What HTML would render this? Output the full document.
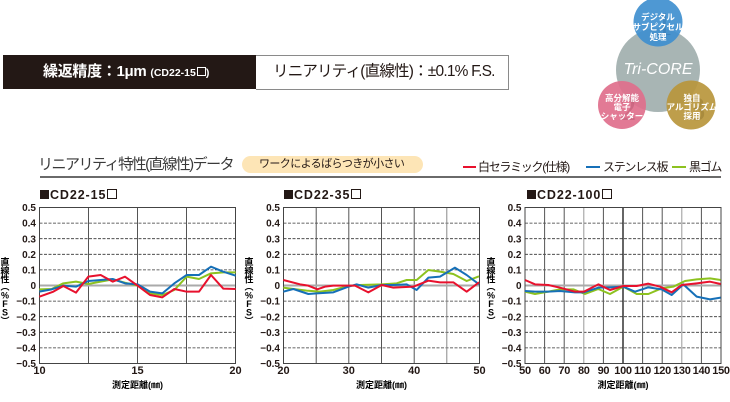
<!DOCTYPE html>
<html><head><meta charset="utf-8">
<style>
html,body{margin:0;padding:0;background:#fff;}
body{width:730px;height:402px;position:relative;overflow:hidden;font-family:"Liberation Sans","Noto Sans CJK JP",sans-serif;color:#231815;}
.abs{position:absolute;white-space:nowrap;}
.sq{display:inline-block;width:9px;height:9px;background:#231815;vertical-align:0px;margin-right:1px;}
.sqo{display:inline-block;width:8px;height:8px;border:1px solid #231815;vertical-align:0px;margin-left:1px;box-sizing:content-box;}
.sqw{display:inline-block;width:7px;height:7px;border:1px solid #fff;vertical-align:0px;margin-left:1px;}
.ct{position:absolute;white-space:nowrap;font-size:12.5px;font-weight:bold;letter-spacing:0.9px;line-height:14px;}
</style></head><body>

<!-- header boxes -->
<div class="abs" style="left:3px;top:55px;width:253px;height:34px;background:#231815;"></div>
<div class="abs" style="left:256px;top:55px;width:252px;height:33px;border:1px solid #8a8a8a;border-left:none;background:#fff;"></div>
<div class="abs" style="left:43px;top:55px;height:34px;line-height:34px;color:#fff;font-weight:bold;font-size:15px;letter-spacing:-0.3px;">繰返精度：1μm <span style="font-size:10.5px;letter-spacing:0;font-weight:bold;">(CD22-15<span class="sqw"></span>)</span></div>
<div class="abs" style="left:273px;top:55px;height:34px;line-height:34px;font-size:15.5px;letter-spacing:-0.8px;color:#231815;">リニアリティ(直線性)：±0.1% F.S.</div>

<!-- Tri-CORE logo -->
<svg class="abs" style="left:590px;top:0;" width="140" height="135" viewBox="590 0 140 135">
  <circle cx="658" cy="70" r="42" fill="#a8b5b4"/>
  <circle cx="658" cy="22" r="24.5" fill="#3f8fcf" opacity="0.92"/>
  <circle cx="622" cy="105" r="24" fill="#e06f8c" opacity="0.92"/>
  <circle cx="691" cy="105" r="24.5" fill="#b8963c" opacity="0.92"/>
  <text x="664" y="35" font-size="34" font-family="Liberation Serif" fill="#2a6aa0" opacity="0.35" text-anchor="middle">1</text>
  <text x="628" y="120" font-size="34" font-family="Liberation Serif" fill="#a0405a" opacity="0.3" text-anchor="middle">2</text>
  <text x="697" y="120" font-size="34" font-family="Liberation Serif" fill="#7a6020" opacity="0.3" text-anchor="middle">3</text>
  <g fill="#fff" font-weight="bold" font-size="8.5" text-anchor="middle" font-family="'Liberation Sans','Noto Sans CJK JP',sans-serif">
    <text x="658" y="20">デジタル</text>
    <text x="658" y="30">サブピクセル</text>
    <text x="658" y="40">処理</text>
    <text x="622" y="101">高分解能</text>
    <text x="622" y="110">電子</text>
    <text x="622" y="119">シャッター</text>
    <text x="692" y="101">独自</text>
    <text x="692" y="110">アルゴリズム</text>
    <text x="692" y="119">採用</text>
  </g>
  <text x="658" y="74" fill="#fff" font-size="16" font-style="italic" text-anchor="middle" font-family="Liberation Sans">Tri-CORE</text>
</svg>

<!-- section title -->
<div class="abs" style="left:38px;top:155px;font-size:15px;letter-spacing:-1.5px;color:#3a3a3a;line-height:20px;">リニアリティ特性(直線性)データ</div>
<div class="abs" style="left:242px;top:156px;width:181px;height:17px;background:#fde5b6;border-radius:9px;"></div>
<div class="abs" style="left:259px;top:156px;height:17px;line-height:17px;font-size:11px;letter-spacing:-0.6px;color:#231815;">ワークによるばらつきが小さい</div>

<!-- legend -->
<div class="abs" style="left:463px;top:166px;width:13px;height:2px;background:#e8112d;"></div>
<div class="abs" style="left:478px;top:158px;line-height:18px;font-size:12px;letter-spacing:-1.3px;">白セラミック(仕様)</div>
<div class="abs" style="left:586px;top:166px;width:14px;height:2px;background:#1670b8;"></div>
<div class="abs" style="left:603px;top:158px;line-height:18px;font-size:12px;letter-spacing:-1.3px;">ステンレス板</div>
<div class="abs" style="left:672px;top:166px;width:14px;height:2px;background:#8dc21f;"></div>
<div class="abs" style="left:689px;top:158px;line-height:18px;font-size:12px;letter-spacing:-1.3px;">黒ゴム</div>

<div class="abs" style="left:40px;top:176px;width:681px;height:2px;background:#6a6a6a;"></div>

<!-- chart titles -->
<div class="ct" style="left:40px;top:188px;"><span class="sq"></span>CD22-15<span class="sqo"></span></div>
<div class="ct" style="left:284px;top:188px;"><span class="sq"></span>CD22-35<span class="sqo"></span></div>
<div class="ct" style="left:527px;top:188px;"><span class="sq"></span>CD22-100<span class="sqo"></span></div>

<svg class="abs" style="left:0;top:0;" width="730" height="402" viewBox="0 0 730 402" font-family="'Liberation Sans','Noto Sans CJK JP',sans-serif">
  <!-- ===== Chart 1 ===== -->
  <g>
    <rect x="39.5" y="207.5" width="196" height="156" fill="#fff"/>
    <g stroke="#333" stroke-width="0.8" stroke-dasharray="3,1.5">
      <line x1="39.5" x2="235.5" y1="223.1" y2="223.1"/>
      <line x1="39.5" x2="235.5" y1="238.7" y2="238.7"/>
      <line x1="39.5" x2="235.5" y1="254.3" y2="254.3"/>
      <line x1="39.5" x2="235.5" y1="269.9" y2="269.9"/>
      <line x1="39.5" x2="235.5" y1="301.1" y2="301.1"/>
      <line x1="39.5" x2="235.5" y1="316.7" y2="316.7"/>
      <line x1="39.5" x2="235.5" y1="332.3" y2="332.3"/>
      <line x1="39.5" x2="235.5" y1="347.9" y2="347.9"/>
    </g>
    <g stroke="#555" stroke-width="1">
      <line x1="88.5" x2="88.5" y1="207.5" y2="363.5"/>
      <line x1="137.5" x2="137.5" y1="207.5" y2="363.5"/>
      <line x1="186.5" x2="186.5" y1="207.5" y2="363.5"/>
    </g>
    <line x1="39.5" x2="235.5" y1="285.5" y2="285.5" stroke="#aaa" stroke-width="2"/>
    <rect x="39.5" y="207.5" width="196" height="156" fill="none" stroke="#444" stroke-width="1"/>
    <g transform="translate(0,195) scale(0.33333)" fill="none" stroke-width="6" stroke-linejoin="round">
      <polyline stroke="#8dc21f" points="118,283 155,282 190,265 228,260 265,267 302,260 338,253 375,263 413,272 450,295 487,300 523,285 560,245 597,252 633,235 670,232 707,232"/>
      <polyline stroke="#1670b8" points="118,290 155,283 190,272 228,275 265,258 302,255 338,252 375,265 413,268 450,290 487,295 523,265 560,240 597,240 633,215 670,230 707,242"/>
      <polyline stroke="#e8112d" points="118,305 160,290 190,273 228,293 265,245 302,240 338,260 375,245 413,272 450,300 487,307 523,282 560,290 597,290 633,240 670,281 707,282"/>
    </g>
    <g font-size="10" font-weight="bold" text-anchor="end" fill="#231815">
      <text x="36" y="211">0.5</text><text x="36" y="226.7">0.4</text><text x="36" y="242.3">0.3</text><text x="36" y="257.9">0.2</text><text x="36" y="273.5">0.1</text><text x="36" y="289.1">0</text>
      <text x="36" y="304.7">−0.1</text><text x="36" y="320.3">−0.2</text><text x="36" y="335.9">−0.3</text><text x="36" y="351.5">−0.4</text><text x="36" y="367.1">−0.5</text>
    </g>
    <g font-size="11" font-weight="bold" text-anchor="middle" fill="#231815">
      <text x="39.5" y="374">10</text><text x="137.5" y="374">15</text><text x="235.5" y="374">20</text>
    </g>
    <text x="137.5" y="388" font-size="9" font-weight="bold" text-anchor="middle">測定距離(㎜)</text>
    <g font-size="9" font-weight="bold" text-anchor="middle">
      <text x="5" y="265">直</text><text x="5" y="274">線</text><text x="5" y="282.5">性</text><text x="5" y="290">︵</text><text x="5" y="298.5">%</text><text x="5" y="307">F</text><text x="5" y="315.5">S</text><text x="5" y="324">︶</text>
    </g>
  </g>

  <!-- ===== Chart 2 ===== -->
  <g>
    <g stroke="#333" stroke-width="0.8" stroke-dasharray="3,1.5">
      <line x1="283.5" x2="479.5" y1="223.1" y2="223.1"/>
      <line x1="283.5" x2="479.5" y1="238.7" y2="238.7"/>
      <line x1="283.5" x2="479.5" y1="254.3" y2="254.3"/>
      <line x1="283.5" x2="479.5" y1="269.9" y2="269.9"/>
      <line x1="283.5" x2="479.5" y1="301.1" y2="301.1"/>
      <line x1="283.5" x2="479.5" y1="316.7" y2="316.7"/>
      <line x1="283.5" x2="479.5" y1="332.3" y2="332.3"/>
      <line x1="283.5" x2="479.5" y1="347.9" y2="347.9"/>
    </g>
    <g stroke="#555" stroke-width="1">
      <line x1="316.2" x2="316.2" y1="207.5" y2="363.5"/>
      <line x1="348.8" x2="348.8" y1="207.5" y2="363.5"/>
      <line x1="381.5" x2="381.5" y1="207.5" y2="363.5"/>
      <line x1="414.2" x2="414.2" y1="207.5" y2="363.5"/>
      <line x1="446.8" x2="446.8" y1="207.5" y2="363.5" stroke="#888"/>
    </g>
    <line x1="283.5" x2="479.5" y1="285.5" y2="285.5" stroke="#aaa" stroke-width="2"/>
    <rect x="283.5" y="207.5" width="196" height="156" fill="none" stroke="#444" stroke-width="1"/>
    <g transform="translate(240,195) scale(0.33333)" fill="none" stroke-width="6" stroke-linejoin="round">
      <polyline stroke="#8dc21f" points="130,278 160,282 200,287 240,290 280,285 325,273 360,270 425,268 470,265 500,255 530,255 565,225 600,230 640,237 680,258 717,244"/>
      <polyline stroke="#1670b8" points="130,290 160,282 205,297 230,295 280,292 325,275 350,268 385,278 425,270 460,270 500,268 530,285 565,248 600,245 645,218 680,240 717,268"/>
      <polyline stroke="#e8112d" points="130,255 180,268 205,272 232,283 255,275 280,272 345,272 385,292 425,270 460,278 520,275 565,257 600,262 640,262 680,290 717,262"/>
    </g>
    <g font-size="10" font-weight="bold" text-anchor="end" fill="#231815">
      <text x="280" y="211">0.5</text><text x="280" y="226.7">0.4</text><text x="280" y="242.3">0.3</text><text x="280" y="257.9">0.2</text><text x="280" y="273.5">0.1</text><text x="280" y="289.1">0</text>
      <text x="280" y="304.7">−0.1</text><text x="280" y="320.3">−0.2</text><text x="280" y="335.9">−0.3</text><text x="280" y="351.5">−0.4</text><text x="280" y="367.1">−0.5</text>
    </g>
    <g font-size="11" font-weight="bold" text-anchor="middle" fill="#231815">
      <text x="283.5" y="374">20</text><text x="348.8" y="374">30</text><text x="414.2" y="374">40</text><text x="479.5" y="374">50</text>
    </g>
    <text x="381.5" y="388" font-size="9" font-weight="bold" text-anchor="middle">測定距離(㎜)</text>
    <g font-size="9" font-weight="bold" text-anchor="middle">
      <text x="249" y="265">直</text><text x="249" y="274">線</text><text x="249" y="282.5">性</text><text x="249" y="290">︵</text><text x="249" y="298.5">%</text><text x="249" y="307">F</text><text x="249" y="315.5">S</text><text x="249" y="324">︶</text>
    </g>
  </g>

  <!-- ===== Chart 3 ===== -->
  <g>
    <g stroke="#333" stroke-width="0.8" stroke-dasharray="3,1.5">
      <line x1="525" x2="721" y1="223.1" y2="223.1"/>
      <line x1="525" x2="721" y1="238.7" y2="238.7"/>
      <line x1="525" x2="721" y1="254.3" y2="254.3"/>
      <line x1="525" x2="721" y1="269.9" y2="269.9"/>
      <line x1="525" x2="721" y1="301.1" y2="301.1"/>
      <line x1="525" x2="721" y1="316.7" y2="316.7"/>
      <line x1="525" x2="721" y1="332.3" y2="332.3"/>
      <line x1="525" x2="721" y1="347.9" y2="347.9"/>
    </g>
    <g stroke="#555" stroke-width="1">
      <line x1="544.6" x2="544.6" y1="207.5" y2="363.5"/>
      <line x1="564.2" x2="564.2" y1="207.5" y2="363.5"/>
      <line x1="583.8" x2="583.8" y1="207.5" y2="363.5" stroke="#999"/>
      <line x1="603.4" x2="603.4" y1="207.5" y2="363.5"/>
      <line x1="623" x2="623" y1="207.5" y2="363.5" stroke="#333" stroke-width="1.5"/>
      <line x1="642.6" x2="642.6" y1="207.5" y2="363.5"/>
      <line x1="662.2" x2="662.2" y1="207.5" y2="363.5"/>
      <line x1="681.8" x2="681.8" y1="207.5" y2="363.5" stroke="#999"/>
      <line x1="701.4" x2="701.4" y1="207.5" y2="363.5"/>
    </g>
    <line x1="525" x2="721" y1="285.5" y2="285.5" stroke="#aaa" stroke-width="2"/>
    <rect x="525" y="207.5" width="196" height="156" fill="none" stroke="#444" stroke-width="1"/>
    <g transform="translate(480,195) scale(0.33333)" fill="none" stroke-width="6" stroke-linejoin="round">
      <polyline stroke="#8dc21f" points="135,290 165,297 205,290 240,283 280,283 315,297 355,282 390,297 430,275 470,297 505,297 545,280 580,275 615,258 650,253 690,250 722,255"/>
      <polyline stroke="#1670b8" points="135,288 165,290 205,290 240,288 285,292 312,292 355,278 390,277 430,275 465,290 505,277 545,283 575,300 610,268 650,305 690,313 722,308"/>
      <polyline stroke="#e8112d" points="135,255 165,268 205,270 240,278 285,290 312,290 355,268 390,285 430,273 470,273 505,266 540,275 575,292 605,270 650,265 690,260 722,267"/>
    </g>
    <g font-size="10" font-weight="bold" text-anchor="end" fill="#231815">
      <text x="521.5" y="211">0.5</text><text x="521.5" y="226.7">0.4</text><text x="521.5" y="242.3">0.3</text><text x="521.5" y="257.9">0.2</text><text x="521.5" y="273.5">0.1</text><text x="521.5" y="289.1">0</text>
      <text x="521.5" y="304.7">−0.1</text><text x="521.5" y="320.3">−0.2</text><text x="521.5" y="335.9">−0.3</text><text x="521.5" y="351.5">−0.4</text><text x="521.5" y="367.1">−0.5</text>
    </g>
    <g font-size="11" font-weight="bold" text-anchor="middle" fill="#231815" letter-spacing="-0.3">
      <text x="525" y="374">50</text><text x="544.6" y="374">60</text><text x="564.2" y="374">70</text><text x="583.8" y="374">80</text><text x="603.4" y="374">90</text>
      <text x="623" y="374">100</text><text x="642.6" y="374">110</text><text x="662.2" y="374">120</text><text x="681.8" y="374">130</text><text x="701.4" y="374">140</text><text x="721" y="374">150</text>
    </g>
    <text x="623" y="388" font-size="9" font-weight="bold" text-anchor="middle">測定距離(㎜)</text>
    <g font-size="9" font-weight="bold" text-anchor="middle">
      <text x="491" y="265">直</text><text x="491" y="274">線</text><text x="491" y="282.5">性</text><text x="491" y="290">︵</text><text x="491" y="298.5">%</text><text x="491" y="307">F</text><text x="491" y="315.5">S</text><text x="491" y="324">︶</text>
    </g>
  </g>
</svg>
</body></html>
